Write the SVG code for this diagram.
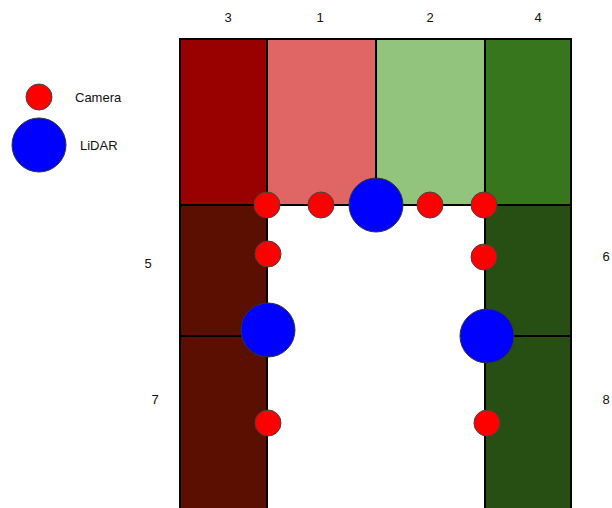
<svg xmlns="http://www.w3.org/2000/svg" width="612" height="508" viewBox="0 0 612 508">
<style>
.z{stroke:#000;stroke-width:2}
.cam{fill:#ff0000;stroke:#444;stroke-width:1}
.lid{fill:#0000ff;stroke:#333;stroke-width:1}
text{font-family:"Liberation Sans",Arial,sans-serif;font-size:13px;fill:#111}
.n{text-anchor:middle}
</style>
<rect width="612" height="508" fill="#fff"/>
<g id="zones">
<g id="zone3"><rect class="z" x="180" y="39" width="87" height="166" fill="#990000"/></g>
<g id="zone1"><rect class="z" x="267" y="39" width="109" height="166" fill="#e06666"/></g>
<g id="zone2"><rect class="z" x="376" y="39" width="109" height="166" fill="#93c47d"/></g>
<g id="zone4"><rect class="z" x="485" y="39" width="86" height="166" fill="#38761d"/></g>
<g id="zone5"><rect class="z" x="180" y="205" width="87" height="131" fill="#5b0f00"/></g>
<g id="zone7"><rect class="z" x="180" y="336" width="87" height="174" fill="#5b0f00"/></g>
<g id="zone6"><rect class="z" x="485" y="205" width="86" height="131" fill="#274e13"/></g>
<g id="zone8"><rect class="z" x="485" y="336" width="86" height="174" fill="#274e13"/></g>
</g>
<g id="labels">
<text class="n" x="228" y="22">3</text>
<text class="n" x="320" y="22">1</text>
<text class="n" x="430" y="22">2</text>
<text class="n" x="538" y="22">4</text>
<text class="n" x="148" y="268">5</text>
<text class="n" x="606" y="261">6</text>
<text class="n" x="155" y="404">7</text>
<text class="n" x="606" y="404">8</text>
</g>
<g id="sensors">
<circle class="cam" cx="267" cy="205" r="13"/>
<circle class="cam" cx="321" cy="205" r="13"/>
<circle class="lid" cx="376" cy="205" r="27"/>
<circle class="cam" cx="430" cy="205" r="13"/>
<circle class="cam" cx="484" cy="205" r="13"/>
<circle class="cam" cx="268" cy="254" r="13"/>
<circle class="cam" cx="484" cy="257" r="13"/>
<circle class="lid" cx="268" cy="330" r="27"/>
<circle class="lid" cx="487" cy="336" r="27"/>
<circle class="cam" cx="268" cy="423" r="13"/>
<circle class="cam" cx="487" cy="423" r="13"/>
</g>
<g id="legend">
<circle class="cam" cx="39" cy="97" r="13"/>
<text x="75" y="102">Camera</text>
<circle class="lid" cx="39" cy="145" r="27"/>
<text x="80" y="150">LiDAR</text>
</g>
</svg>
